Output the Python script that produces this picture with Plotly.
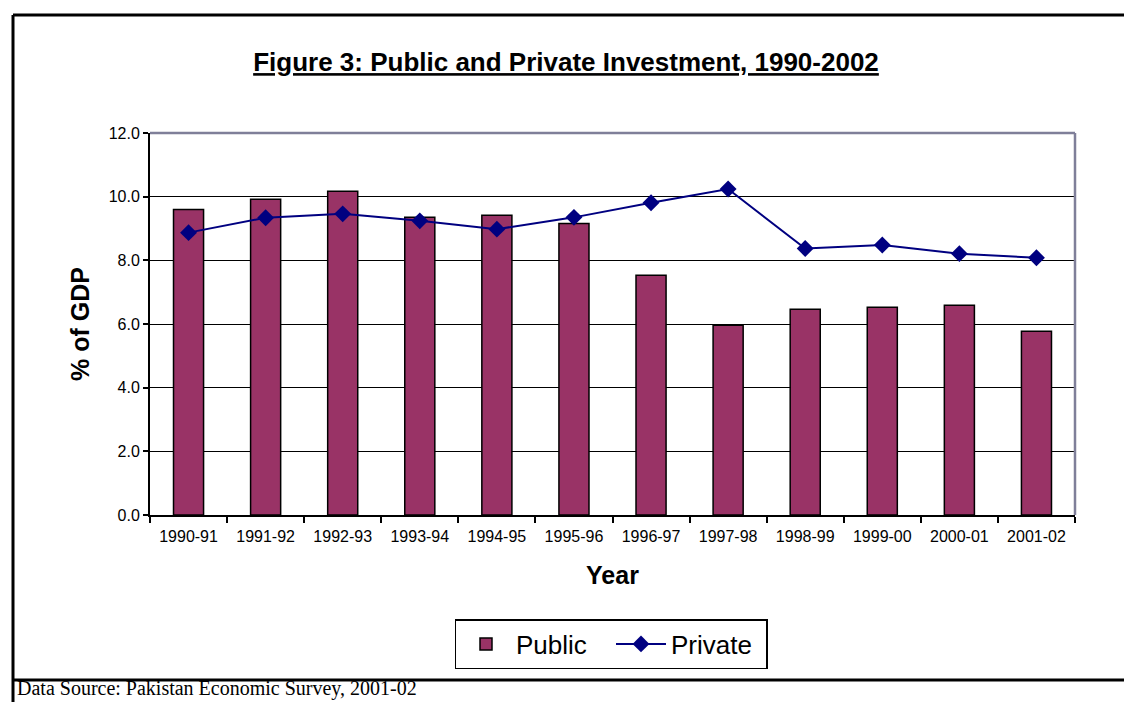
import plotly.graph_objects as go

years = ["1990-91", "1991-92", "1992-93", "1993-94", "1994-95", "1995-96",
         "1996-97", "1997-98", "1998-99", "1999-00", "2000-01", "2001-02"]
public = [9.6, 9.92, 10.17, 9.35, 9.42, 9.16, 7.53, 5.96, 6.46, 6.53, 6.59, 5.77]
private = [8.87, 9.34, 9.46, 9.24, 8.98, 9.35, 9.81, 10.24, 8.37, 8.48, 8.21, 8.08]
y_ticks = [0, 2, 4, 6, 8, 10, 12]

SANS = "Liberation Sans, Arial, sans-serif"
SERIF = "Liberation Serif, Times New Roman, serif"

fig = go.Figure()
fig.add_trace(go.Bar(
    x=years, y=public, name="Public",
    marker=dict(color="#993366", line=dict(color="black", width=1.5)),
    width=0.39,
))
fig.add_trace(go.Scatter(
    x=years, y=private, name="Private", mode="lines+markers",
    line=dict(color="#000080", width=2),
    marker=dict(symbol="diamond", size=13, color="#000080"),
))

W, H = 1124, 702
L, R, T, B = 150, 49, 133, 187

def px(xp):
    return (xp - L) / (W - L - R)

def py(yp):
    return (H - B - yp) / (H - T - B)

fig.update_layout(
    width=W, height=H,
    margin=dict(l=L, r=R, t=T, b=B),
    paper_bgcolor="white", plot_bgcolor="white",
    font=dict(family=SANS, color="black"),
    title=dict(
        text="<b><u>Figure 3: Public and Private Investment, 1990-2002</u></b>",
        x=566 / W, xanchor="center", y=1 - 62 / H, yanchor="middle",
        font=dict(size=26, family=SANS),
    ),
    xaxis=dict(
        type="category", range=[-0.5, 11.5], tickson="boundaries",
        ticks="outside", ticklen=6, tickwidth=1.5, tickcolor="black",
        ticklabelstandoff=6,
        showline=True, linecolor="black", linewidth=2,
        tickfont=dict(size=16), showgrid=False,
        title=dict(text="<b>Year</b>", font=dict(size=25), standoff=22),
    ),
    yaxis=dict(
        range=[0, 12], tickvals=y_ticks, tickformat=".1f", ticks="outside",
        ticklen=5, tickwidth=1.5, tickcolor="black", showline=True,
        linecolor="black", linewidth=2, gridcolor="black", gridwidth=1,
        tickfont=dict(size=16), zeroline=False,
        title=dict(text="<b>% of GDP</b>", font=dict(size=25), standoff=12),
    ),
    showlegend=True,
    legend=dict(
        orientation="h", x=px(611), xanchor="center", y=py(619), yanchor="top",
        bordercolor="black", borderwidth=1.5, font=dict(size=26),
        itemwidth=50, entrywidth=90, entrywidthmode="pixels",
        bgcolor="white", tracegroupgap=0,
    ),
    shapes=[
        # gray top and right edges of the plot frame
        dict(type="line", xref="paper", yref="paper", x0=0, x1=1, y0=1, y1=1,
             line=dict(color="#7f7f99", width=2.5), layer="above"),
        dict(type="line", xref="paper", yref="paper", x0=1, x1=1, y0=0, y1=1,
             line=dict(color="#7f7f99", width=2.5), layer="above"),
        # outer chart border
        dict(type="line", xref="paper", yref="paper", x0=px(13), x1=px(1130),
             y0=py(15), y1=py(15), line=dict(color="black", width=3)),
        dict(type="line", xref="paper", yref="paper", x0=px(13), x1=px(13),
             y0=py(15), y1=py(705), line=dict(color="black", width=3)),
        dict(type="line", xref="paper", yref="paper", x0=px(13), x1=px(1130),
             y0=py(680), y1=py(680), line=dict(color="black", width=3)),
    ],
    annotations=[
        dict(text="Data Source: Pakistan Economic Survey, 2001-02",
             xref="paper", yref="paper", x=px(15), y=py(688),
             xanchor="left", yanchor="middle", showarrow=False,
             font=dict(family=SERIF, size=20, color="black")),
    ],
)

fig.write_html("out.html")
